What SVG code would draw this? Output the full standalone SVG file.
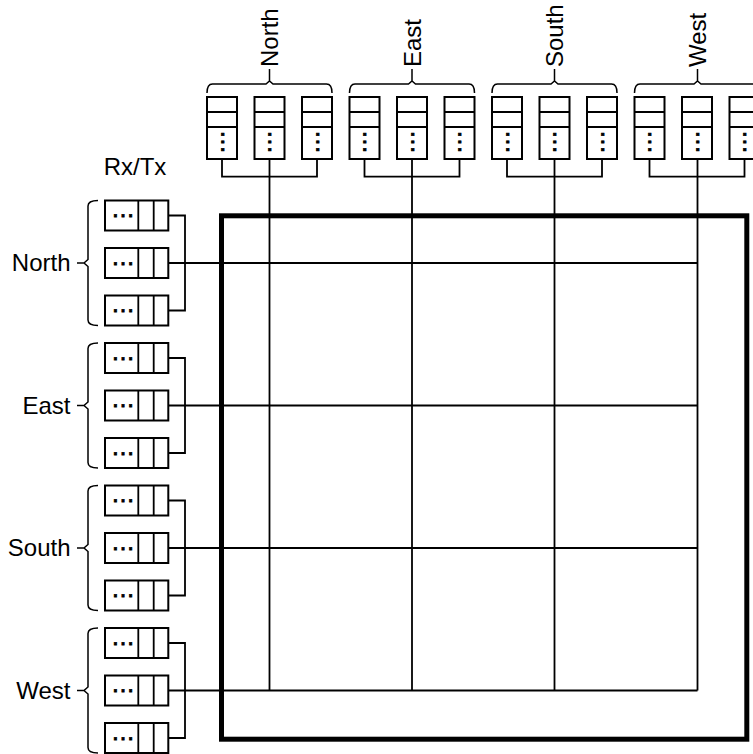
<svg xmlns="http://www.w3.org/2000/svg" width="753" height="754" viewBox="0 0 753 754">
<style>
.box{fill:#fff;stroke:#000;stroke-width:2}
.in{fill:none;stroke:#000;stroke-width:1.8}
.ln{fill:none;stroke:#000;stroke-width:1.8}
.br{fill:none;stroke:#000;stroke-width:1.5}
.lbl{font-family:"Liberation Sans",Arial,sans-serif;font-size:24px;fill:#000}
.dots{font-family:"Liberation Sans",Arial,sans-serif;font-size:24px;fill:#000;stroke:#000;stroke-width:0.8;text-anchor:middle}
.xbar{fill:none;stroke:#000;stroke-width:5}
</style>
<rect width="753" height="754" fill="#fff"/>

<!-- crossbar -->
<g id="crossbar">
<rect class="xbar" x="221.5" y="215.8" width="525.3" height="523.4"/>
</g>

<!-- connectors -->
<g id="connectors">
<!-- left groups -->
<path class="ln" d="M168.3,215.5 H185 V310.5 H168.3"/>
<path class="ln" d="M168.3,358 H185 V453 H168.3"/>
<path class="ln" d="M168.3,500.5 H185 V595.5 H168.3"/>
<path class="ln" d="M168.3,643 H185 V738 H168.3"/>
<!-- top groups -->
<path class="ln" d="M222,159 V176.7 H317 V159"/>
<path class="ln" d="M364.5,159 V176.7 H459.5 V159"/>
<path class="ln" d="M507,159 V176.7 H602 V159"/>
<path class="ln" d="M649.5,159 V176.7 H744.5 V159"/>
<!-- grid -->
<path class="ln" d="M168.3,263 H697.5"/>
<path class="ln" d="M168.3,405.5 H697.5"/>
<path class="ln" d="M168.3,548 H697.5"/>
<path class="ln" d="M168.3,690.5 H697.5"/>
<path class="ln" d="M269.5,159 V690.5"/>
<path class="ln" d="M412,159 V690.5"/>
<path class="ln" d="M554.5,159 V690.5"/>
<path class="ln" d="M697.5,159 V690.5"/>
</g>

<!-- labels and braces -->
<g id="label-rxtx">
<text class="lbl" x="135" y="175" text-anchor="middle">Rx/Tx</text>
</g>

<g id="left-north">
<path class="br" d="M98,200.5 Q88,200.5 88,206 V259.5 L84,263 L88,266.5 V320 Q88,325.5 98,325.5 M77,263 H84"/>
<text class="lbl" x="70.5" y="271" text-anchor="end">North</text>
</g>
<g id="left-east">
<path class="br" d="M98,343 Q88,343 88,348.5 V402 L84,405.5 L88,409 V462.5 Q88,468 98,468 M77,405.5 H84"/>
<text class="lbl" x="70.5" y="413.5" text-anchor="end">East</text>
</g>
<g id="left-south">
<path class="br" d="M98,485.5 Q88,485.5 88,491 V544.5 L84,548 L88,551.5 V605 Q88,610.5 98,610.5 M77,548 H84"/>
<text class="lbl" x="70.5" y="556" text-anchor="end">South</text>
</g>
<g id="left-west">
<path class="br" d="M98,628 Q88,628 88,633.5 V687 L84,690.5 L88,694 V747.5 Q88,753 98,753 M77,690.5 H84"/>
<text class="lbl" x="70.5" y="698.5" text-anchor="end">West</text>
</g>

<g id="top-north">
<path class="br" d="M207,93 Q207,84 212.5,84 H266 L269.5,81 L273,84 H326.5 Q332,84 332,93 M269.5,81 V69"/>
<text class="lbl" transform="translate(278,67) rotate(-90)">North</text>
</g>
<g id="top-east">
<path class="br" d="M349.5,93 Q349.5,84 355,84 H408.5 L412,81 L415.5,84 H469 Q474.5,84 474.5,93 M412,81 V69"/>
<text class="lbl" transform="translate(420.5,67) rotate(-90)">East</text>
</g>
<g id="top-south">
<path class="br" d="M492,93 Q492,84 497.5,84 H551 L554.5,81 L558,84 H611.5 Q617,84 617,93 M554.5,81 V69"/>
<text class="lbl" transform="translate(563,67) rotate(-90)">South</text>
</g>
<g id="top-west">
<path class="br" d="M634.5,93 Q634.5,84 640,84 H694 L697.5,81 L701,84 H754 Q759.5,84 759.5,93 M697.5,81 V69"/>
<text class="lbl" transform="translate(706,67) rotate(-90)">West</text>
</g>

<!-- left buffers -->
<g id="rx-north-1" transform="translate(105,200.5)"><rect class="box" width="63.3" height="30"/><path class="in" d="M33.3,0 V30 M48.7,0 V30"/><text class="dots" x="18" y="16.5">…</text></g>
<g id="rx-north-2" transform="translate(105,248)"><rect class="box" width="63.3" height="30"/><path class="in" d="M33.3,0 V30 M48.7,0 V30"/><text class="dots" x="18" y="16.5">…</text></g>
<g id="rx-north-3" transform="translate(105,295.5)"><rect class="box" width="63.3" height="30"/><path class="in" d="M33.3,0 V30 M48.7,0 V30"/><text class="dots" x="18" y="16.5">…</text></g>
<g id="rx-east-1" transform="translate(105,343)"><rect class="box" width="63.3" height="30"/><path class="in" d="M33.3,0 V30 M48.7,0 V30"/><text class="dots" x="18" y="16.5">…</text></g>
<g id="rx-east-2" transform="translate(105,390.5)"><rect class="box" width="63.3" height="30"/><path class="in" d="M33.3,0 V30 M48.7,0 V30"/><text class="dots" x="18" y="16.5">…</text></g>
<g id="rx-east-3" transform="translate(105,438)"><rect class="box" width="63.3" height="30"/><path class="in" d="M33.3,0 V30 M48.7,0 V30"/><text class="dots" x="18" y="16.5">…</text></g>
<g id="rx-south-1" transform="translate(105,485.5)"><rect class="box" width="63.3" height="30"/><path class="in" d="M33.3,0 V30 M48.7,0 V30"/><text class="dots" x="18" y="16.5">…</text></g>
<g id="rx-south-2" transform="translate(105,533)"><rect class="box" width="63.3" height="30"/><path class="in" d="M33.3,0 V30 M48.7,0 V30"/><text class="dots" x="18" y="16.5">…</text></g>
<g id="rx-south-3" transform="translate(105,580.5)"><rect class="box" width="63.3" height="30"/><path class="in" d="M33.3,0 V30 M48.7,0 V30"/><text class="dots" x="18" y="16.5">…</text></g>
<g id="rx-west-1" transform="translate(105,628)"><rect class="box" width="63.3" height="30"/><path class="in" d="M33.3,0 V30 M48.7,0 V30"/><text class="dots" x="18" y="16.5">…</text></g>
<g id="rx-west-2" transform="translate(105,675.5)"><rect class="box" width="63.3" height="30"/><path class="in" d="M33.3,0 V30 M48.7,0 V30"/><text class="dots" x="18" y="16.5">…</text></g>
<g id="rx-west-3" transform="translate(105,723)"><rect class="box" width="63.3" height="30"/><path class="in" d="M33.3,0 V30 M48.7,0 V30"/><text class="dots" x="18" y="16.5">…</text></g>

<!-- top buffers -->
<g id="tx-north-1" transform="translate(207,97)"><rect class="box" width="30" height="62"/><path class="in" d="M0,15 H30 M0,30 H30"/><text class="dots" transform="translate(15,45) rotate(-90)" y="1.5">…</text></g>
<g id="tx-north-2" transform="translate(254.5,97)"><rect class="box" width="30" height="62"/><path class="in" d="M0,15 H30 M0,30 H30"/><text class="dots" transform="translate(15,45) rotate(-90)" y="1.5">…</text></g>
<g id="tx-north-3" transform="translate(302,97)"><rect class="box" width="30" height="62"/><path class="in" d="M0,15 H30 M0,30 H30"/><text class="dots" transform="translate(15,45) rotate(-90)" y="1.5">…</text></g>
<g id="tx-east-1" transform="translate(349.5,97)"><rect class="box" width="30" height="62"/><path class="in" d="M0,15 H30 M0,30 H30"/><text class="dots" transform="translate(15,45) rotate(-90)" y="1.5">…</text></g>
<g id="tx-east-2" transform="translate(397,97)"><rect class="box" width="30" height="62"/><path class="in" d="M0,15 H30 M0,30 H30"/><text class="dots" transform="translate(15,45) rotate(-90)" y="1.5">…</text></g>
<g id="tx-east-3" transform="translate(444.5,97)"><rect class="box" width="30" height="62"/><path class="in" d="M0,15 H30 M0,30 H30"/><text class="dots" transform="translate(15,45) rotate(-90)" y="1.5">…</text></g>
<g id="tx-south-1" transform="translate(492,97)"><rect class="box" width="30" height="62"/><path class="in" d="M0,15 H30 M0,30 H30"/><text class="dots" transform="translate(15,45) rotate(-90)" y="1.5">…</text></g>
<g id="tx-south-2" transform="translate(539.5,97)"><rect class="box" width="30" height="62"/><path class="in" d="M0,15 H30 M0,30 H30"/><text class="dots" transform="translate(15,45) rotate(-90)" y="1.5">…</text></g>
<g id="tx-south-3" transform="translate(587,97)"><rect class="box" width="30" height="62"/><path class="in" d="M0,15 H30 M0,30 H30"/><text class="dots" transform="translate(15,45) rotate(-90)" y="1.5">…</text></g>
<g id="tx-west-1" transform="translate(634.5,97)"><rect class="box" width="30" height="62"/><path class="in" d="M0,15 H30 M0,30 H30"/><text class="dots" transform="translate(15,45) rotate(-90)" y="1.5">…</text></g>
<g id="tx-west-2" transform="translate(682,97)"><rect class="box" width="30" height="62"/><path class="in" d="M0,15 H30 M0,30 H30"/><text class="dots" transform="translate(15,45) rotate(-90)" y="1.5">…</text></g>
<g id="tx-west-3" transform="translate(729.5,97)"><rect class="box" width="30" height="62"/><path class="in" d="M0,15 H30 M0,30 H30"/><text class="dots" transform="translate(15,45) rotate(-90)" y="1.5">…</text></g>
</svg>
